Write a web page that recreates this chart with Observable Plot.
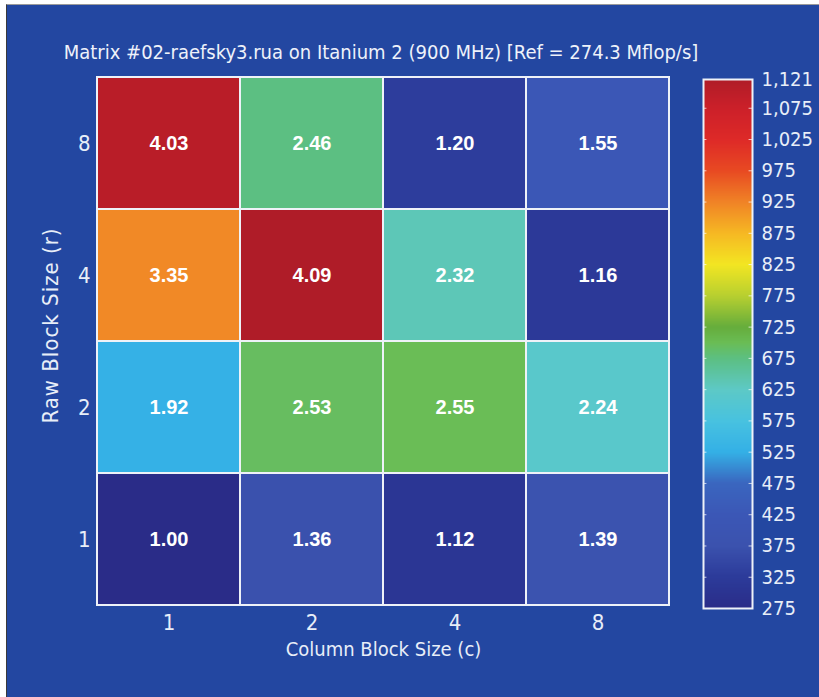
<!DOCTYPE html>
<html>
<head>
<meta charset="utf-8">
<script src="https://cdn.jsdelivr.net/npm/d3@7"></script>
<script src="https://cdn.jsdelivr.net/npm/@observablehq/plot@0.6"></script>
<style>
  body { margin: 0; background: #fff; width: 819px; height: 697px; overflow: hidden; position: relative; }
  #panel {
    position: absolute; left: 6px; top: 4px; width: 813px; height: 693px;
    box-sizing: border-box; background: #2347a1;
    border-left: 1px solid #3a3a3a; border-top: 1px solid #9a9a9a;
  }
  #title {
    position: absolute; left: 0; width: 748px; top: 37px; line-height: 20px;
    text-align: center; color: #eef2fa; white-space: nowrap;
    font-family: "DejaVu Sans Condensed", "Liberation Sans Narrow", sans-serif; font-size: 20px;
  }
  #main { position: absolute; left: 0; top: 0; }
  #bar { position: absolute; left: 690px; top: 0; }
</style>
</head>
<body>
<div id="panel">
  <div id="title"></div>
  <div id="main"></div>
  <div id="bar"></div>
</div>
<script>
// Register blocking r x c for SpMV on raefsky3, speedups relative to 1x1
const titleText = "Matrix #02-raefsky3.rua on Itanium 2 (900 MHz) [Ref = 274.3 Mflop/s]";
const refMflops = 274.3;
const colBlocks = ["1", "2", "4", "8"];
const rowBlocks = ["8", "4", "2", "1"]; // top to bottom
const speedupR8 = [4.03, 2.46, 1.20, 1.55];
const speedupR4 = [3.35, 4.09, 2.32, 1.16];
const speedupR2 = [1.92, 2.53, 2.55, 2.24];
const speedupR1 = [1.00, 1.36, 1.12, 1.39];
const xLabel = "Column Block Size (c)";
const yLabel = "Raw Block Size (r)";

// Colour bar (Mflop/s)
const barMin = 275;
const barMax = 1121;
const barTicks = [275, 325, 375, 425, 475, 525, 575, 625, 675, 725, 775, 825, 875, 925, 975, 1025, 1075, 1121];

// Jet-like colour ramp stops, in Mflop/s
const stopValues = [274.3, 325, 375, 425, 475, 525, 575, 625, 675, 700, 725, 775, 825, 875, 925, 975, 1025, 1075, 1121];
const stopColors = ["#2a2c88", "#2c3b9a", "#3b52ae", "#3b57b6", "#3a66bf", "#34b0e6", "#48c2e0", "#5dc9c6", "#5cbf82",
                    "#6abd55", "#66ad3c", "#b8d030", "#f3e622", "#f6b823", "#f08326", "#e84a22", "#de2a28", "#cc2029", "#b01c28"];

const rowsData = [speedupR8, speedupR4, speedupR2, speedupR1];
const cells = [];
rowBlocks.forEach((r, i) => colBlocks.forEach((c, j) => cells.push({r, c, s: rowsData[i][j]})));

const colorScale = {type: "linear", domain: stopValues, range: stopColors};
const condensed = "'DejaVu Sans Condensed', 'Liberation Sans Narrow', sans-serif";
const textColor = "#e8eef8";

document.getElementById("title").textContent = titleText;

const main = Plot.plot({
  width: 690, height: 692,
  marginLeft: 90, marginRight: 28, marginTop: 72, marginBottom: 92,
  style: {fontFamily: condensed, fontSize: "22px", color: textColor, background: "transparent"},
  x: {domain: colBlocks, label: null, tickSize: 0, tickPadding: 9, padding: 0},
  y: {domain: rowBlocks, label: null, tickSize: 0, tickPadding: 7, padding: 0},
  color: colorScale,
  marks: [
    Plot.cell(cells, {x: "c", y: "r", fill: d => d.s * refMflops, stroke: "#eef2f8", strokeWidth: 2, inset: 0}),
    Plot.text(cells, {x: "c", y: "r", text: d => d.s.toFixed(2), fill: "white", fontSize: 20, fontWeight: "bold",
                      fontFamily: "'Liberation Sans', Arial, sans-serif"}),
    Plot.text([xLabel], {frameAnchor: "bottom", dy: 50, fill: textColor, fontSize: 20}),
    Plot.text([yLabel], {frameAnchor: "left", textAnchor: "middle", dx: -47, dy: -16, rotate: -90, fill: textColor, fontSize: 22})
  ]
});
// open up the rotated axis title slightly
main.querySelectorAll("text").forEach(t => {
  if (t.textContent === yLabel) t.style.letterSpacing = "1px";
});
document.getElementById("main").appendChild(main);

const bar = Plot.plot({
  width: 122, height: 692,
  marginLeft: 6, marginRight: 67, marginTop: 74, marginBottom: 89,
  style: {fontFamily: condensed, fontSize: "20px", color: textColor, background: "transparent"},
  x: {domain: [0, 1], axis: null},
  y: {domain: [barMin, barMax], axis: "right", ticks: barTicks, tickFormat: d3.format(","), tickSize: 0, tickPadding: 9, label: null},
  color: colorScale,
  marks: [
    Plot.raster({x1: 0, x2: 1, y1: barMin, y2: barMax, width: 1, height: 423, fill: (x, y) => y, imageRendering: "auto"}),
    Plot.ruleY(barTicks, {x1: 0, x2: 0.07, stroke: "white", strokeOpacity: 0.7}),
    Plot.ruleY(barTicks, {x1: 0.93, x2: 1, stroke: "white", strokeOpacity: 0.7}),
    Plot.frame({stroke: "#eef2f8", strokeWidth: 2})
  ]
});
document.getElementById("bar").appendChild(bar);
</script>
</body>
</html>
